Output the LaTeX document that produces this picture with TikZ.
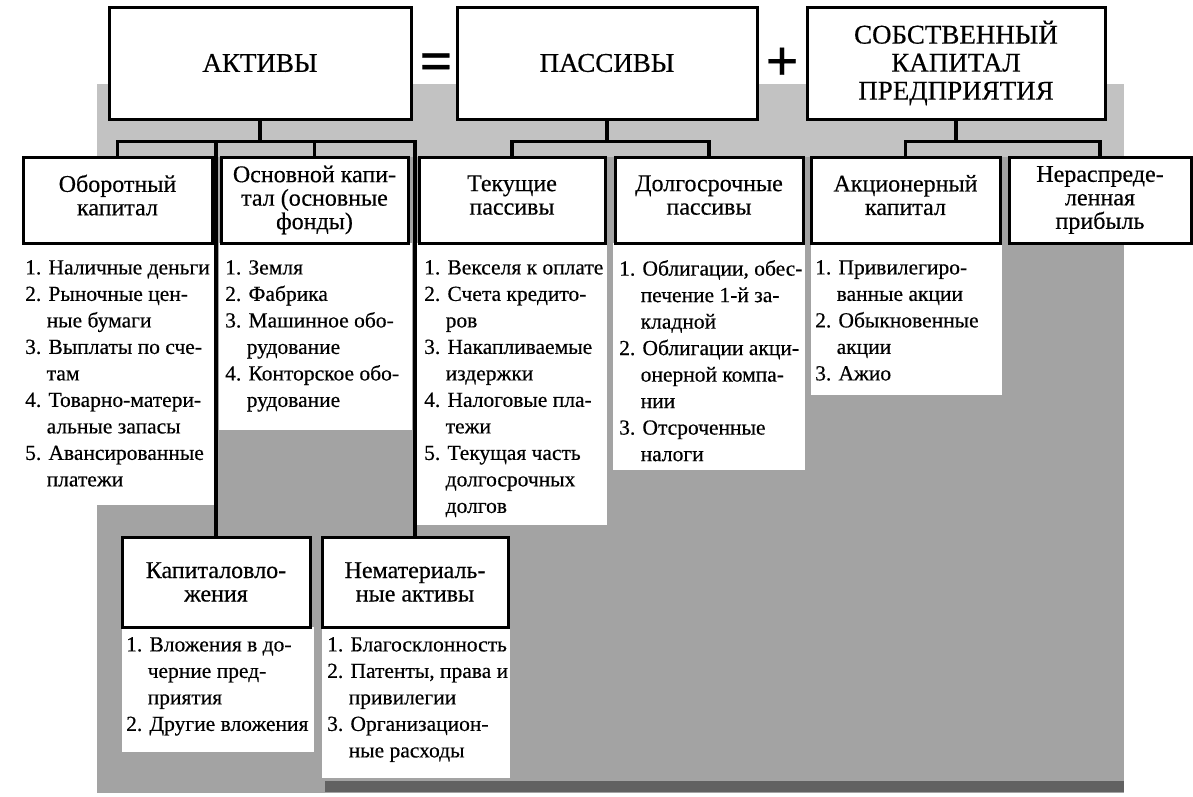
\documentclass[tikz,border=0pt]{standalone}
\usepackage{fontspec}
\setmainfont[FakeBold=0.4]{Liberation Serif}
\newcommand\hangpad{\phantom{1.\ }}
\newcommand\lift{\rule[-10pt]{0pt}{0pt}}
\tikzset{
  every node/.style={inner sep=0pt},
  frame/.style={draw, line width=3pt, fill=white, align=center},
  headbox/.style={frame, minimum height=112pt, font=\fontsize{27}{28}\selectfont},
  subbox/.style={frame, minimum height=86pt, font=\fontsize{24}{23.5}\selectfont},
  lowbox/.style={frame, minimum height=90pt, font=\fontsize{24}{23.5}\selectfont},
  itemlist/.style={anchor=north west, align=left, font=\fontsize{21.5}{26.5}\selectfont},
  sign/.style={font=\fontsize{58}{58}\bfseries\selectfont},
  link/.style={line width=3.2pt},
  screen/.style={fill=black!36},
  screenlight/.style={fill=black!24},
  screendark/.style={fill=black!62},
  paper/.style={fill=white},
}
\begin{document}
\begin{tikzpicture}[x=1pt,y=-1pt]
\useasboundingbox (0,0) rectangle (1193,796);

% halftone backdrop
\fill[screen] (97,84) rectangle (1124,793);
\fill[screenlight] (97,84) rectangle (1124,157);
\fill[screendark] (325,781) rectangle (1124,792);

% white fields under the item lists
\fill[paper] (0,243) rectangle (215,505);
\fill[paper] (219,243) rectangle (412,430);
\fill[paper] (416,243) rectangle (607,525);
\fill[paper] (613,243) rectangle (805,470);
\fill[paper] (811,243) rectangle (1002,395);
\fill[paper] (122,627) rectangle (314,752);
\fill[paper] (322,627) rectangle (510,778);

% equation row
\node[headbox, minimum width=302pt] (akt) at (260,63) {АКТИВЫ};
\node[headbox, minimum width=300pt] (pas) at (607,63) {ПАССИВЫ};
\node[headbox, minimum width=298pt] (sob) at (956,63) {СОБСТВЕННЫЙ\\КАПИТАЛ\\ПРЕДПРИЯТИЯ};
\node[sign] (eq) at (436,67) {=};
\node[sign] (plus) at (782,64) {+};

% second level
\node[subbox, minimum width=189pt] (obor) at (117.5,200) {Оборотный\\капитал\lift};
\node[subbox, minimum width=187pt] (osn) at (314.5,200) {Основной капи-\\тал (основные\\фонды)};
\node[subbox, minimum width=186pt] (tek) at (512,200) {Текущие\\пассивы\lift};
\node[subbox, minimum width=188pt] (dolg) at (709,200) {Долгосрочные\\пассивы\lift};
\node[subbox, minimum width=189pt] (akc) at (905.5,200) {Акционерный\\капитал\lift};
\node[subbox, minimum width=182pt] (ner) at (1100,200) {Нераспреде-\\ленная\\прибыль};

% third level
\node[lowbox, minimum width=188pt] (kapv) at (216,582) {Капиталовло-\\жения};
\node[lowbox, minimum width=186pt] (nemat) at (415,582) {Нематериаль-\\ные активы};

% connectors
\foreach \child in {obor,kapv,osn,nemat}
  \draw[link] (akt.south) -- ++(0,21) -| (\child.north);
\foreach \child in {tek,dolg}
  \draw[link] (pas.south) -- ++(0,21) -| (\child.north);
\foreach \child in {akc,ner}
  \draw[link] (sob.south) -- ++(0,21) -| (\child.north);

% item lists
\node[itemlist] (obor-list) at (25,260) {1. Наличные деньги\\2. Рыночные цен-\\\hangpad ные бумаги\\3. Выплаты по сче-\\\hangpad там\\4. Товарно-матери-\\\hangpad альные запасы\\5. Авансированные\\\hangpad платежи};
\node[itemlist] (osn-list) at (225,260) {1. Земля\\2. Фабрика\\3. Машинное обо-\\\hangpad рудование\\4. Конторское обо-\\\hangpad рудование};
\node[itemlist] (tek-list) at (424,260) {1. Векселя к оплате\\2. Счета кредито-\\\hangpad ров\\3. Накапливаемые\\\hangpad издержки\\4. Налоговые пла-\\\hangpad тежи\\5. Текущая часть\\\hangpad долгосрочных\\\hangpad долгов};
\node[itemlist] (dolg-list) at (619,260) {1. Облигации, обес-\\\hangpad печение 1-й за-\\\hangpad кладной\\2. Облигации акци-\\\hangpad онерной компа-\\\hangpad нии\\3. Отсроченные\\\hangpad налоги};
\node[itemlist] (akc-list) at (815,260) {1. Привилегиро-\\\hangpad ванные акции\\2. Обыкновенные\\\hangpad акции\\3. Ажио};
\node[itemlist] (kapv-list) at (126,637) {1. Вложения в до-\\\hangpad черние пред-\\\hangpad приятия\\2. Другие вложения};
\node[itemlist] (nemat-list) at (327,637) {1. Благосклонность\\2. Патенты, права и\\\hangpad привилегии\\3. Организацион-\\\hangpad ные расходы};
\end{tikzpicture}
\end{document}
